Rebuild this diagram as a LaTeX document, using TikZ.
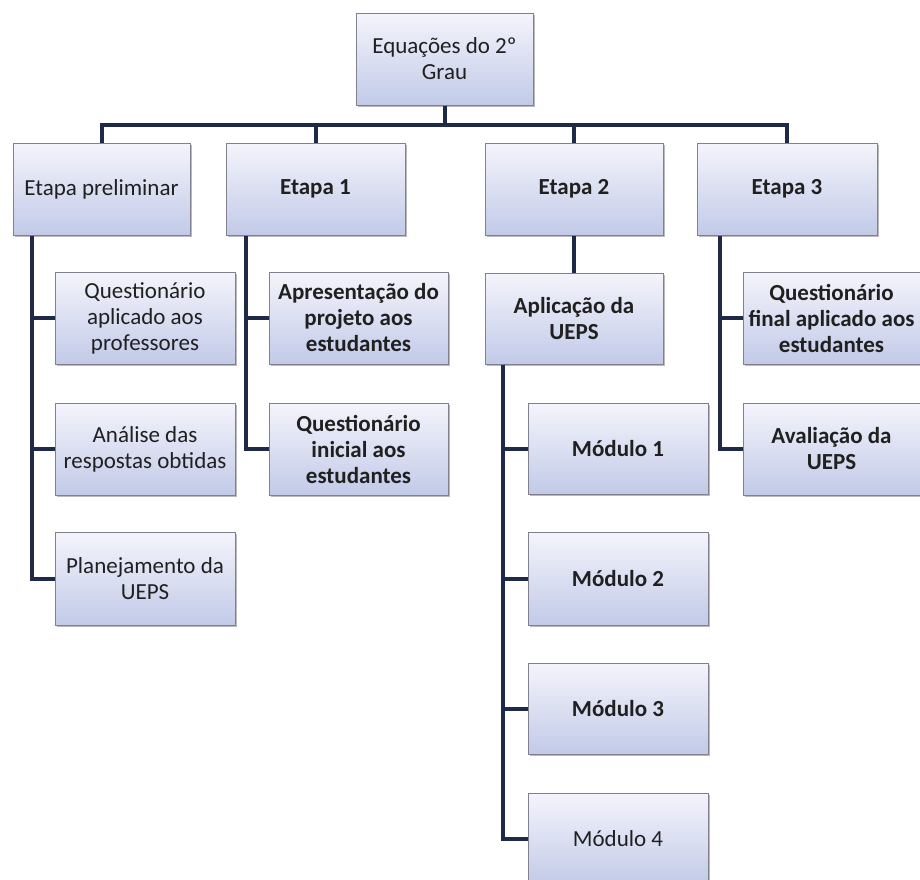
\documentclass[tikz,border=0pt]{standalone}
\usepackage{fontspec}
\setmainfont{Carlito}
\usetikzlibrary{shadows}
\definecolor{linecol}{HTML}{1E2A48}
\definecolor{boxtop}{HTML}{F4F4FB}
\definecolor{boxbot}{HTML}{C2CAE8}
\definecolor{boxline}{HTML}{80808E}
\definecolor{txtcol}{HTML}{202020}
\tikzset{
  box/.style={rectangle, draw=boxline, line width=1pt, top color=boxtop, bottom color=boxbot,
    minimum height=92pt, align=center, inner xsep=0pt, inner ysep=2pt, text=txtcol,
    font=\fontsize{23}{26}\selectfont,
    drop shadow={shadow xshift=2pt, shadow yshift=-2pt, fill=black!45, opacity=0.6}},
  conn/.style={draw=linecol, line width=4pt, line join=miter}
}
\begin{document}
\begin{tikzpicture}[x=1pt,y=-1pt]
\useasboundingbox (0,0) rectangle (920,879);
\fill[white] (0,0) rectangle (920,879);
\clip (0,0) rectangle (920,879);
\coordinate (bus) at (0,125);
\coordinate (sp0) at (32,0);
\coordinate (sp1) at (246,0);
\coordinate (sp2) at (503,0);
\coordinate (sp3) at (720,0);

% nodes
\node[box, minimum width=177pt] (root) at (444.5,59) {Equações do 2º\\Grau};
\node[box, minimum width=177pt] (prel) at (101.5,189) {Etapa preliminar};
\node[box, minimum width=179pt] (e1) at (315.5,189) {\bfseries Etapa 1};
\node[box, minimum width=178pt] (e2) at (574,189) {\bfseries Etapa 2};
\node[box, minimum width=180pt] (e3) at (787,189) {\bfseries Etapa 3};

\node[box, minimum width=180pt] (p1) at (145,318) {Questionário\\aplicado aos\\professores};
\node[box, minimum width=180pt] (p2) at (145,449) {Análise das\\respostas obtidas};
\node[box, minimum width=180pt, minimum height=93pt] (p3) at (145,578.5) {Planejamento da\\UEPS};

\node[box, minimum width=179pt] (a1) at (358.5,318) {\bfseries Apresentação do\\\bfseries projeto aos\\\bfseries estudantes};
\node[box, minimum width=179pt] (a2) at (358.5,449) {\bfseries Questionário\\\bfseries inicial aos\\\bfseries estudantes};

\node[box, minimum width=178pt, minimum height=91pt] (ap) at (574,318.5) {\bfseries Aplicação da\\\bfseries UEPS};
\node[box, minimum width=180pt, minimum height=91pt] (m1) at (618,448.5) {\bfseries Módulo 1};
\node[box, minimum width=180pt, minimum height=93pt] (m2) at (618,578.5) {\bfseries Módulo 2};
\node[box, minimum width=180pt, minimum height=91pt] (m3) at (618,708.5) {\bfseries Módulo 3};
\node[box, minimum width=180pt, minimum height=92pt] (m4) at (618,839) {Módulo 4};

\node[box, minimum width=177pt] (f1) at (831.5,318) {\bfseries Questionário\\\bfseries final aplicado aos\\\bfseries estudantes};
\node[box, minimum width=177pt] (f2) at (831.5,449) {\bfseries Avaliação da\\\bfseries UEPS};

% connectors
\draw[conn] (root.south) |- (prel.north |- bus) -- (prel.north);
\draw[conn] (root.south) |- (e1.north |- bus) -- (e1.north);
\draw[conn] (root.south) |- (e2.north |- bus) -- (e2.north);
\draw[conn] (root.south) |- (e3.north |- bus) -- (e3.north);

\draw[conn] (prel.south -| sp0) |- (p1.west);
\draw[conn] (prel.south -| sp0) |- (p2.west);
\draw[conn] (prel.south -| sp0) |- (p3.west);

\draw[conn] (e1.south -| sp1) |- (a1.west);
\draw[conn] (e1.south -| sp1) |- (a2.west);

\draw[conn] (e2.south) -- (ap.north);
\draw[conn] (ap.south -| sp2) |- (m1.west);
\draw[conn] (ap.south -| sp2) |- (m2.west);
\draw[conn] (ap.south -| sp2) |- (m3.west);
\draw[conn] (ap.south -| sp2) |- (m4.west);

\draw[conn] (e3.south -| sp3) |- (f1.west);
\draw[conn] (e3.south -| sp3) |- (f2.west);
\end{tikzpicture}
\end{document}
